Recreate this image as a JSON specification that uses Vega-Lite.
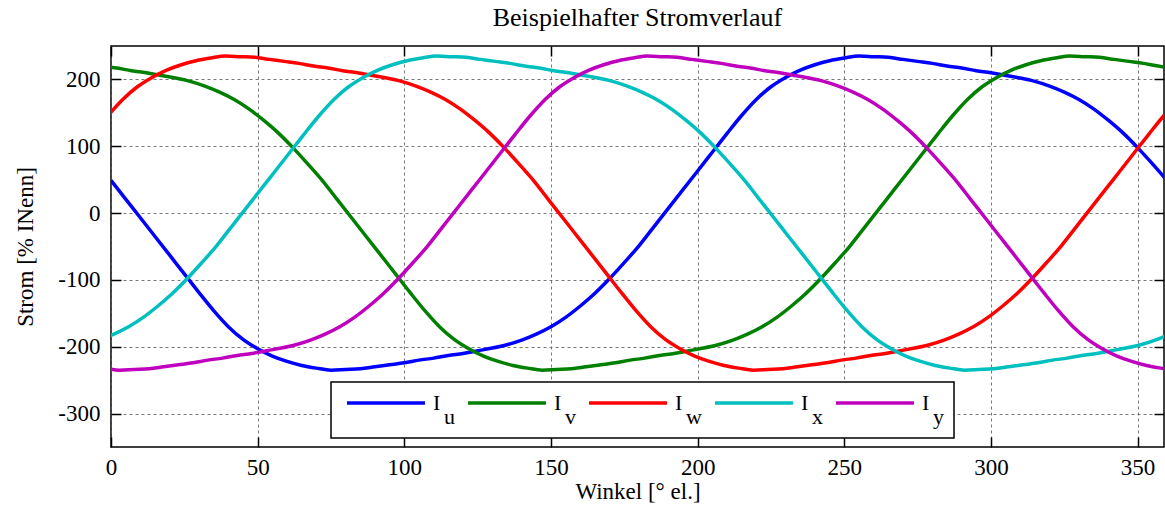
{
"$schema": "https://vega.github.io/schema/vega-lite/v6.json",
"width": 1053, "height": 401,
"autosize": {"type": "none"},
"padding": {"left": 111, "top": 46, "right": 1, "bottom": 68},
"background": "white",
"title": {"text": "Beispielhafter Stromverlauf", "font": "Liberation Serif", "fontSize": 26, "fontWeight": "normal", "color": "black", "anchor": "middle", "offset": 14},
"config": {
  "view": {"stroke": "black", "strokeWidth": 1.5},
  "font": "Liberation Serif",
  "style": {"guide-label": {"lineHeight": 14}},
  "legend": {"strokeWidth": 1.5}
},
"data": {"values": [
{"s":"Iu","t":0,"v":49},{"s":"Iu","t":5,"v":21},{"s":"Iu","t":10,"v":-7},{"s":"Iu","t":15,"v":-35},{"s":"Iu","t":20,"v":-63},{"s":"Iu","t":25,"v":-91},{"s":"Iu","t":30,"v":-119},{"s":"Iu","t":35,"v":-146},{"s":"Iu","t":40,"v":-170},{"s":"Iu","t":45,"v":-189},{"s":"Iu","t":50,"v":-203},{"s":"Iu","t":55,"v":-214},{"s":"Iu","t":60,"v":-222},{"s":"Iu","t":65,"v":-228},{"s":"Iu","t":70,"v":-232},{"s":"Iu","t":75,"v":-235},{"s":"Iu","t":80,"v":-234},{"s":"Iu","t":85,"v":-233},{"s":"Iu","t":90,"v":-230},{"s":"Iu","t":95,"v":-227},{"s":"Iu","t":100,"v":-224},{"s":"Iu","t":105,"v":-220},{"s":"Iu","t":110,"v":-217},{"s":"Iu","t":115,"v":-213},{"s":"Iu","t":120,"v":-210},{"s":"Iu","t":125,"v":-206},{"s":"Iu","t":130,"v":-202},{"s":"Iu","t":135,"v":-197},{"s":"Iu","t":140,"v":-190},{"s":"Iu","t":145,"v":-181},{"s":"Iu","t":150,"v":-170},{"s":"Iu","t":155,"v":-156},{"s":"Iu","t":160,"v":-139},{"s":"Iu","t":165,"v":-120},{"s":"Iu","t":170,"v":-98},{"s":"Iu","t":175,"v":-74},{"s":"Iu","t":180,"v":-49},{"s":"Iu","t":185,"v":-21},{"s":"Iu","t":190,"v":7},{"s":"Iu","t":195,"v":35},{"s":"Iu","t":200,"v":63},{"s":"Iu","t":205,"v":91},{"s":"Iu","t":210,"v":119},{"s":"Iu","t":215,"v":146},{"s":"Iu","t":220,"v":170},{"s":"Iu","t":225,"v":189},{"s":"Iu","t":230,"v":203},{"s":"Iu","t":235,"v":214},{"s":"Iu","t":240,"v":222},{"s":"Iu","t":245,"v":228},{"s":"Iu","t":250,"v":232},{"s":"Iu","t":255,"v":235},{"s":"Iu","t":260,"v":234},{"s":"Iu","t":265,"v":233},{"s":"Iu","t":270,"v":230},{"s":"Iu","t":275,"v":227},{"s":"Iu","t":280,"v":224},{"s":"Iu","t":285,"v":220},{"s":"Iu","t":290,"v":217},{"s":"Iu","t":295,"v":213},{"s":"Iu","t":300,"v":210},{"s":"Iu","t":305,"v":206},{"s":"Iu","t":310,"v":202},{"s":"Iu","t":315,"v":197},{"s":"Iu","t":320,"v":190},{"s":"Iu","t":325,"v":181},{"s":"Iu","t":330,"v":170},{"s":"Iu","t":335,"v":156},{"s":"Iu","t":340,"v":139},{"s":"Iu","t":345,"v":120},{"s":"Iu","t":350,"v":98},{"s":"Iu","t":355,"v":74},{"s":"Iu","t":360,"v":49},
{"s":"Iv","t":-3,"v":220},{"s":"Iv","t":2,"v":217},{"s":"Iv","t":7,"v":213},{"s":"Iv","t":12,"v":210},{"s":"Iv","t":17,"v":206},{"s":"Iv","t":22,"v":202},{"s":"Iv","t":27,"v":197},{"s":"Iv","t":32,"v":190},{"s":"Iv","t":37,"v":181},{"s":"Iv","t":42,"v":170},{"s":"Iv","t":47,"v":156},{"s":"Iv","t":52,"v":139},{"s":"Iv","t":57,"v":120},{"s":"Iv","t":62,"v":98},{"s":"Iv","t":67,"v":74},{"s":"Iv","t":72,"v":49},{"s":"Iv","t":77,"v":21},{"s":"Iv","t":82,"v":-7},{"s":"Iv","t":87,"v":-35},{"s":"Iv","t":92,"v":-63},{"s":"Iv","t":97,"v":-91},{"s":"Iv","t":102,"v":-119},{"s":"Iv","t":107,"v":-146},{"s":"Iv","t":112,"v":-170},{"s":"Iv","t":117,"v":-189},{"s":"Iv","t":122,"v":-203},{"s":"Iv","t":127,"v":-214},{"s":"Iv","t":132,"v":-222},{"s":"Iv","t":137,"v":-228},{"s":"Iv","t":142,"v":-232},{"s":"Iv","t":147,"v":-235},{"s":"Iv","t":152,"v":-234},{"s":"Iv","t":157,"v":-233},{"s":"Iv","t":162,"v":-230},{"s":"Iv","t":167,"v":-227},{"s":"Iv","t":172,"v":-224},{"s":"Iv","t":177,"v":-220},{"s":"Iv","t":182,"v":-217},{"s":"Iv","t":187,"v":-213},{"s":"Iv","t":192,"v":-210},{"s":"Iv","t":197,"v":-206},{"s":"Iv","t":202,"v":-202},{"s":"Iv","t":207,"v":-197},{"s":"Iv","t":212,"v":-190},{"s":"Iv","t":217,"v":-181},{"s":"Iv","t":222,"v":-170},{"s":"Iv","t":227,"v":-156},{"s":"Iv","t":232,"v":-139},{"s":"Iv","t":237,"v":-120},{"s":"Iv","t":242,"v":-98},{"s":"Iv","t":247,"v":-74},{"s":"Iv","t":252,"v":-49},{"s":"Iv","t":257,"v":-21},{"s":"Iv","t":262,"v":7},{"s":"Iv","t":267,"v":35},{"s":"Iv","t":272,"v":63},{"s":"Iv","t":277,"v":91},{"s":"Iv","t":282,"v":119},{"s":"Iv","t":287,"v":146},{"s":"Iv","t":292,"v":170},{"s":"Iv","t":297,"v":189},{"s":"Iv","t":302,"v":203},{"s":"Iv","t":307,"v":214},{"s":"Iv","t":312,"v":222},{"s":"Iv","t":317,"v":228},{"s":"Iv","t":322,"v":232},{"s":"Iv","t":327,"v":235},{"s":"Iv","t":332,"v":234},{"s":"Iv","t":337,"v":233},{"s":"Iv","t":342,"v":230},{"s":"Iv","t":347,"v":227},{"s":"Iv","t":352,"v":224},{"s":"Iv","t":357,"v":220},{"s":"Iv","t":362,"v":217},
{"s":"Iw","t":-1,"v":146},{"s":"Iw","t":4,"v":170},{"s":"Iw","t":9,"v":189},{"s":"Iw","t":14,"v":203},{"s":"Iw","t":19,"v":214},{"s":"Iw","t":24,"v":222},{"s":"Iw","t":29,"v":228},{"s":"Iw","t":34,"v":232},{"s":"Iw","t":39,"v":235},{"s":"Iw","t":44,"v":234},{"s":"Iw","t":49,"v":233},{"s":"Iw","t":54,"v":230},{"s":"Iw","t":59,"v":227},{"s":"Iw","t":64,"v":224},{"s":"Iw","t":69,"v":220},{"s":"Iw","t":74,"v":217},{"s":"Iw","t":79,"v":213},{"s":"Iw","t":84,"v":210},{"s":"Iw","t":89,"v":206},{"s":"Iw","t":94,"v":202},{"s":"Iw","t":99,"v":197},{"s":"Iw","t":104,"v":190},{"s":"Iw","t":109,"v":181},{"s":"Iw","t":114,"v":170},{"s":"Iw","t":119,"v":156},{"s":"Iw","t":124,"v":139},{"s":"Iw","t":129,"v":120},{"s":"Iw","t":134,"v":98},{"s":"Iw","t":139,"v":74},{"s":"Iw","t":144,"v":49},{"s":"Iw","t":149,"v":21},{"s":"Iw","t":154,"v":-7},{"s":"Iw","t":159,"v":-35},{"s":"Iw","t":164,"v":-63},{"s":"Iw","t":169,"v":-91},{"s":"Iw","t":174,"v":-119},{"s":"Iw","t":179,"v":-146},{"s":"Iw","t":184,"v":-170},{"s":"Iw","t":189,"v":-189},{"s":"Iw","t":194,"v":-203},{"s":"Iw","t":199,"v":-214},{"s":"Iw","t":204,"v":-222},{"s":"Iw","t":209,"v":-228},{"s":"Iw","t":214,"v":-232},{"s":"Iw","t":219,"v":-235},{"s":"Iw","t":224,"v":-234},{"s":"Iw","t":229,"v":-233},{"s":"Iw","t":234,"v":-230},{"s":"Iw","t":239,"v":-227},{"s":"Iw","t":244,"v":-224},{"s":"Iw","t":249,"v":-220},{"s":"Iw","t":254,"v":-217},{"s":"Iw","t":259,"v":-213},{"s":"Iw","t":264,"v":-210},{"s":"Iw","t":269,"v":-206},{"s":"Iw","t":274,"v":-202},{"s":"Iw","t":279,"v":-197},{"s":"Iw","t":284,"v":-190},{"s":"Iw","t":289,"v":-181},{"s":"Iw","t":294,"v":-170},{"s":"Iw","t":299,"v":-156},{"s":"Iw","t":304,"v":-139},{"s":"Iw","t":309,"v":-120},{"s":"Iw","t":314,"v":-98},{"s":"Iw","t":319,"v":-74},{"s":"Iw","t":324,"v":-49},{"s":"Iw","t":329,"v":-21},{"s":"Iw","t":334,"v":7},{"s":"Iw","t":339,"v":35},{"s":"Iw","t":344,"v":63},{"s":"Iw","t":349,"v":91},{"s":"Iw","t":354,"v":119},{"s":"Iw","t":359,"v":146},{"s":"Iw","t":364,"v":170},
{"s":"Ix","t":-4,"v":-190},{"s":"Ix","t":1,"v":-181},{"s":"Ix","t":6,"v":-170},{"s":"Ix","t":11,"v":-156},{"s":"Ix","t":16,"v":-139},{"s":"Ix","t":21,"v":-120},{"s":"Ix","t":26,"v":-98},{"s":"Ix","t":31,"v":-74},{"s":"Ix","t":36,"v":-49},{"s":"Ix","t":41,"v":-21},{"s":"Ix","t":46,"v":7},{"s":"Ix","t":51,"v":35},{"s":"Ix","t":56,"v":63},{"s":"Ix","t":61,"v":91},{"s":"Ix","t":66,"v":119},{"s":"Ix","t":71,"v":146},{"s":"Ix","t":76,"v":170},{"s":"Ix","t":81,"v":189},{"s":"Ix","t":86,"v":203},{"s":"Ix","t":91,"v":214},{"s":"Ix","t":96,"v":222},{"s":"Ix","t":101,"v":228},{"s":"Ix","t":106,"v":232},{"s":"Ix","t":111,"v":235},{"s":"Ix","t":116,"v":234},{"s":"Ix","t":121,"v":233},{"s":"Ix","t":126,"v":230},{"s":"Ix","t":131,"v":227},{"s":"Ix","t":136,"v":224},{"s":"Ix","t":141,"v":220},{"s":"Ix","t":146,"v":217},{"s":"Ix","t":151,"v":213},{"s":"Ix","t":156,"v":210},{"s":"Ix","t":161,"v":206},{"s":"Ix","t":166,"v":202},{"s":"Ix","t":171,"v":197},{"s":"Ix","t":176,"v":190},{"s":"Ix","t":181,"v":181},{"s":"Ix","t":186,"v":170},{"s":"Ix","t":191,"v":156},{"s":"Ix","t":196,"v":139},{"s":"Ix","t":201,"v":120},{"s":"Ix","t":206,"v":98},{"s":"Ix","t":211,"v":74},{"s":"Ix","t":216,"v":49},{"s":"Ix","t":221,"v":21},{"s":"Ix","t":226,"v":-7},{"s":"Ix","t":231,"v":-35},{"s":"Ix","t":236,"v":-63},{"s":"Ix","t":241,"v":-91},{"s":"Ix","t":246,"v":-119},{"s":"Ix","t":251,"v":-146},{"s":"Ix","t":256,"v":-170},{"s":"Ix","t":261,"v":-189},{"s":"Ix","t":266,"v":-203},{"s":"Ix","t":271,"v":-214},{"s":"Ix","t":276,"v":-222},{"s":"Ix","t":281,"v":-228},{"s":"Ix","t":286,"v":-232},{"s":"Ix","t":291,"v":-235},{"s":"Ix","t":296,"v":-234},{"s":"Ix","t":301,"v":-233},{"s":"Ix","t":306,"v":-230},{"s":"Ix","t":311,"v":-227},{"s":"Ix","t":316,"v":-224},{"s":"Ix","t":321,"v":-220},{"s":"Ix","t":326,"v":-217},{"s":"Ix","t":331,"v":-213},{"s":"Ix","t":336,"v":-210},{"s":"Ix","t":341,"v":-206},{"s":"Ix","t":346,"v":-202},{"s":"Ix","t":351,"v":-197},{"s":"Ix","t":356,"v":-190},{"s":"Ix","t":361,"v":-181},
{"s":"Iy","t":-2,"v":-232},{"s":"Iy","t":3,"v":-235},{"s":"Iy","t":8,"v":-234},{"s":"Iy","t":13,"v":-233},{"s":"Iy","t":18,"v":-230},{"s":"Iy","t":23,"v":-227},{"s":"Iy","t":28,"v":-224},{"s":"Iy","t":33,"v":-220},{"s":"Iy","t":38,"v":-217},{"s":"Iy","t":43,"v":-213},{"s":"Iy","t":48,"v":-210},{"s":"Iy","t":53,"v":-206},{"s":"Iy","t":58,"v":-202},{"s":"Iy","t":63,"v":-197},{"s":"Iy","t":68,"v":-190},{"s":"Iy","t":73,"v":-181},{"s":"Iy","t":78,"v":-170},{"s":"Iy","t":83,"v":-156},{"s":"Iy","t":88,"v":-139},{"s":"Iy","t":93,"v":-120},{"s":"Iy","t":98,"v":-98},{"s":"Iy","t":103,"v":-74},{"s":"Iy","t":108,"v":-49},{"s":"Iy","t":113,"v":-21},{"s":"Iy","t":118,"v":7},{"s":"Iy","t":123,"v":35},{"s":"Iy","t":128,"v":63},{"s":"Iy","t":133,"v":91},{"s":"Iy","t":138,"v":119},{"s":"Iy","t":143,"v":146},{"s":"Iy","t":148,"v":170},{"s":"Iy","t":153,"v":189},{"s":"Iy","t":158,"v":203},{"s":"Iy","t":163,"v":214},{"s":"Iy","t":168,"v":222},{"s":"Iy","t":173,"v":228},{"s":"Iy","t":178,"v":232},{"s":"Iy","t":183,"v":235},{"s":"Iy","t":188,"v":234},{"s":"Iy","t":193,"v":233},{"s":"Iy","t":198,"v":230},{"s":"Iy","t":203,"v":227},{"s":"Iy","t":208,"v":224},{"s":"Iy","t":213,"v":220},{"s":"Iy","t":218,"v":217},{"s":"Iy","t":223,"v":213},{"s":"Iy","t":228,"v":210},{"s":"Iy","t":233,"v":206},{"s":"Iy","t":238,"v":202},{"s":"Iy","t":243,"v":197},{"s":"Iy","t":248,"v":190},{"s":"Iy","t":253,"v":181},{"s":"Iy","t":258,"v":170},{"s":"Iy","t":263,"v":156},{"s":"Iy","t":268,"v":139},{"s":"Iy","t":273,"v":120},{"s":"Iy","t":278,"v":98},{"s":"Iy","t":283,"v":74},{"s":"Iy","t":288,"v":49},{"s":"Iy","t":293,"v":21},{"s":"Iy","t":298,"v":-7},{"s":"Iy","t":303,"v":-35},{"s":"Iy","t":308,"v":-63},{"s":"Iy","t":313,"v":-91},{"s":"Iy","t":318,"v":-119},{"s":"Iy","t":323,"v":-146},{"s":"Iy","t":328,"v":-170},{"s":"Iy","t":333,"v":-189},{"s":"Iy","t":338,"v":-203},{"s":"Iy","t":343,"v":-214},{"s":"Iy","t":348,"v":-222},{"s":"Iy","t":353,"v":-228},{"s":"Iy","t":358,"v":-232},{"s":"Iy","t":363,"v":-235}
]},
"layer": [
  {
    "mark": {"type": "line", "strokeWidth": 3.5, "clip": true, "interpolate": "monotone"},
    "encoding": {
      "x": {"field": "t", "type": "quantitative", "scale": {"domain": [0, 359], "nice": false, "zero": false},
        "axis": {"orient": "bottom", "values": [0,50,100,150,200,250,300,350], "grid": true, "gridColor": "#555555", "gridDash": [3,3], "gridWidth": 0.8, "domain": false, "tickColor": "black", "tickWidth": 1.5, "tickSize": -10, "labelPadding": 19, "labelFlush": false, "labelFont": "Liberation Serif", "labelFontSize": 23, "labelColor": "black", "labelExpr": "'' + datum.value", "title": "Winkel [° el.]", "titleFont": "Liberation Serif", "titleFontSize": 23, "titleFontWeight": "normal", "titleColor": "black", "titlePadding": 1}},
      "y": {"field": "v", "type": "quantitative", "scale": {"domain": [-350, 250], "nice": false, "zero": false},
        "axis": {"orient": "left", "values": [-300,-200,-100,0,100,200], "grid": true, "gridColor": "#555555", "gridDash": [3,3], "gridWidth": 0.8, "domain": false, "tickColor": "black", "tickWidth": 1.5, "tickSize": -10, "labelPadding": 21, "labelFlush": false, "labelFont": "Liberation Serif", "labelFontSize": 23, "labelColor": "black", "labelExpr": "'' + datum.value", "title": "Strom [% INenn]", "titleFont": "Liberation Serif", "titleFontSize": 23, "titleFontWeight": "normal", "titleColor": "black", "titlePadding": 20}},
      "color": {"field": "s", "type": "nominal", "scale": {"domain": ["Iu","Iv","Iw","Ix","Iy"], "range": ["#0000ff","#008000","#ff0000","#00bfbf","#bf00bf"]},
        "legend": {"title": null, "orient": "none", "legendX": 220, "legendY": 336, "direction": "horizontal", "columns": 5, "symbolType": "M-6.5,0H6.5", "symbolSize": 144, "symbolOffset": 34, "symbolStrokeWidth": 3.5, "labelFont": "Liberation Serif", "labelFontSize": 22, "labelColor": "black", "labelOffset": 36, "columnPadding": 6, "padding": 10, "strokeColor": "black", "fillColor": "white", "labelExpr": "['I', '\u200b\u00a0\u00a0' + substring(datum.label, 1)]"}}
    }
  },
  {
    "mark": {"type": "line", "opacity": 0, "clip": true},
    "encoding": {
      "x": {"field": "t", "type": "quantitative", "axis": {"orient": "top", "values": [0,50,100,150,200,250,300,350], "grid": false, "domain": false, "labels": false, "title": null, "tickColor": "black", "tickWidth": 1.5, "tickSize": -10}},
      "y": {"field": "v", "type": "quantitative", "axis": {"orient": "right", "values": [-300,-200,-100,0,100,200], "grid": false, "domain": false, "labels": false, "title": null, "tickColor": "black", "tickWidth": 1.5, "tickSize": -10}}
    }
  }
],
"resolve": {"axis": {"x": "independent", "y": "independent"}}
}
